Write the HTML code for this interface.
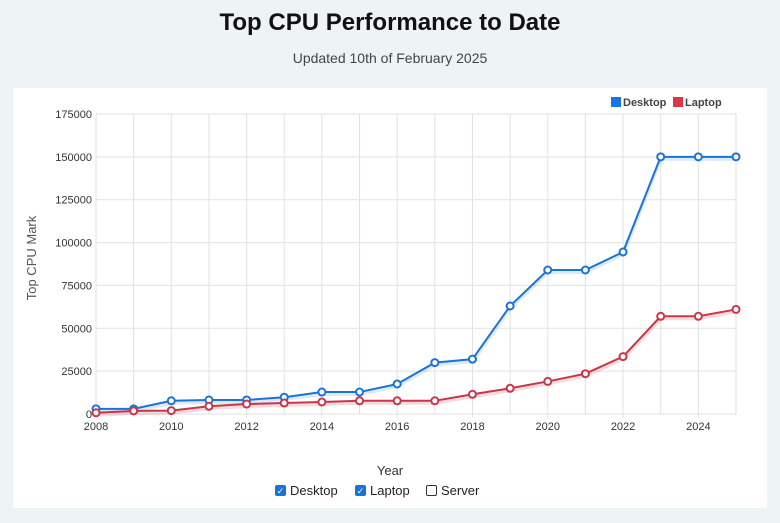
<!DOCTYPE html><html><head><style>
body{margin:0;width:780px;height:523px;background:#eef3f6;font-family:"Liberation Sans",sans-serif;position:relative;overflow:hidden}
.t{position:absolute;top:9px;width:780px;text-align:center;font-size:24px;font-weight:bold;color:#111}
.s{position:absolute;top:50px;width:780px;text-align:center;font-size:14px;color:#444}
.p{position:absolute;left:13px;top:88px;width:754px;height:420px;background:#fff}
.cb{position:absolute;top:483px;font-size:13px;color:#222;display:flex;align-items:center;gap:4px}
.box{width:11px;height:11px;border:1px solid #333;border-radius:2px;box-sizing:border-box}
.on{background:#1a73d9;border-color:#1a73d9;color:#fff;font-size:9px;line-height:10px;text-align:center}
</style></head><body>
<div class="t">Top CPU Performance to Date</div>
<div class="s">Updated 10th of February 2025</div>
<div class="p"></div>
<svg style="position:absolute;left:0;top:0" width="780" height="523" font-family="Liberation Sans,sans-serif">
<g stroke="#e2e2e2" stroke-width="1" id="g"></g>
<g id="a" font-size="11" fill="#333"></g>
<text x="36" y="258" font-size="13" fill="#555" transform="rotate(-90 36 258)" text-anchor="middle">Top CPU Mark</text>
<text x="390" y="475" font-size="13" fill="#333" text-anchor="middle">Year</text>
<rect x="611" y="97" width="10" height="10" fill="#1a73e8"/><text x="623" y="106" font-size="11" font-weight="bold" fill="#444">Desktop</text>
<rect x="673" y="97" width="10" height="10" fill="#dc3545"/><text x="685" y="106" font-size="11" font-weight="bold" fill="#444">Laptop</text>
<g id="d"></g>
</svg>
<div class="cb" style="left:275px"><div class="box on">✓</div>Desktop</div>
<div class="cb" style="left:355px"><div class="box on">✓</div>Laptop</div>
<div class="cb" style="left:426px"><div class="box"></div>Server</div>
<script>
var ns="http://www.w3.org/2000/svg";
function el(p,t,a,tx){var e=document.createElementNS(ns,t);for(var k in a)e.setAttribute(k,a[k]);if(tx!=null)e.textContent=tx;document.getElementById(p).appendChild(e);return e}
function X(y){return 96+(y-2008)*640/17}function Y(v){return 414-v*300/175000}
for(var i=0;i<=7;i++){var y=Y(i*25000);el("g","line",{x1:96,x2:736,y1:y,y2:y});el("a","text",{x:92,y:y+4,"text-anchor":"end"},i*25000)}
for(var yr=2008;yr<=2025;yr++){var x=X(yr);el("g","line",{x1:x,x2:x,y1:114,y2:yr%2==0?418:414});if(yr%2==0)el("a","text",{x:x,y:430,"text-anchor":"middle"},yr)}
var D=[3000,3000,7700,8200,8200,9800,12800,12800,17500,30000,32000,63000,84000,84000,94500,150000,150000,150000];
var L=[700,1800,2000,4500,5800,6400,7000,7700,7700,7700,11500,15000,19000,23500,33500,57000,57000,61000];
function s(a,c,sh){var p=a.map(function(v,i){return X(2008+i)+","+(Y(v))}).join(" ");
var p2=a.map(function(v,i){return X(2008+i)+","+(Y(v)+2)}).join(" ");
el("d","polyline",{points:p2,fill:"none",stroke:sh,"stroke-width":4});
el("d","polyline",{points:p,fill:"none",stroke:c,"stroke-width":2});
a.forEach(function(v,i){el("d","circle",{cx:X(2008+i),cy:Y(v),r:3.5,fill:"#fff",stroke:c,"stroke-width":2})})}
s(D,"#1a73d9","rgba(26,115,217,0.15)");s(L,"#c9364a","rgba(201,54,74,0.18)");
</script>
</body></html>
